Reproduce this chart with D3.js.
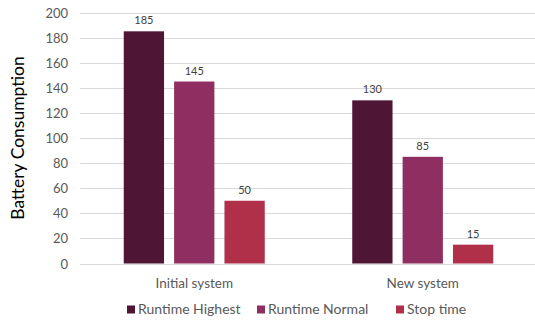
<!DOCTYPE html>
<html><head><meta charset="utf-8">
<script src="https://cdn.jsdelivr.net/npm/d3@7"></script>
<style>body{margin:0;background:#fff}svg{display:block}text{font-family:"Gill Sans","Lato",sans-serif}</style>
</head><body>
<svg id="c" width="535" height="321"></svg>
<script>
const categories = ["Initial system", "New system"];
const seriesNames = ["Runtime Highest", "Runtime Normal", "Stop time"];
const runtimeHighest = [185, 130];
const runtimeNormal = [145, 85];
const stopTime = [50, 15];
const yTicks = [0, 20, 40, 60, 80, 100, 120, 140, 160, 180, 200];
const colors = ["#4F1535", "#8E2E61", "#B0304A"];

const seriesValues = [runtimeHighest, runtimeNormal, stopTime];
const svg = d3.select("#c");
const y = d3.scaleLinear().domain([0, 200]).range([263.5, 12.5]);
const x0 = d3.scaleBand().domain(categories).range([80, 537]).paddingInner(0).paddingOuter(0);
const groupW = 141;
const x1 = d3.scaleBand().domain(seriesNames).range([0, groupW]).paddingInner(0.2).paddingOuter(0);
// grid
svg.append("g").selectAll("line").data(yTicks).join("line")
  .attr("x1", 80).attr("x2", 535).attr("y1", d => Math.round(y(d)) + 0.5).attr("y2", d => Math.round(y(d)) + 0.5)
  .attr("stroke", "#D9D9D9").attr("stroke-width", 1);
// y axis labels
const yAxis = d3.axisLeft(y).tickValues(yTicks).tickSize(0).tickPadding(0);
const ya = svg.append("g").attr("transform", "translate(68,0)").call(yAxis);
ya.select(".domain").remove();
ya.selectAll("text").attr("fill", "#595959").attr("font-size", 13).attr("dy", "0.35em")
  .style("font-family", '"Gill Sans","Lato",sans-serif');
// bars
const groups = svg.append("g").selectAll("g").data(categories).join("g")
  .attr("transform", d => `translate(${x0(d) + (x0.bandwidth() - groupW) / 2},0)`);
groups.selectAll("rect").data((c, i) => seriesNames.map((s, j) => ({s, j, v: seriesValues[j][i]}))).join("rect")
  .attr("x", d => x1(d.s)).attr("width", x1.bandwidth())
  .attr("y", d => y(d.v)).attr("height", d => y(0) - y(d.v))
  .attr("fill", d => colors[d.j]);
groups.selectAll("text").data((c, i) => seriesNames.map((s, j) => ({s, j, v: seriesValues[j][i]}))).join("text")
  .attr("x", d => x1(d.s) + x1.bandwidth() / 2).attr("y", d => y(d.v) - 7)
  .attr("text-anchor", "middle").attr("font-size", 11).attr("fill", "#404040").text(d => d.v);
// category labels
svg.append("g").selectAll("text").data(categories).join("text")
  .attr("x", d => x0(d) + x0.bandwidth() / 2).attr("y", 288)
  .attr("text-anchor", "middle").attr("font-size", 13.5).attr("fill", "#595959").text(d => d);
// y title
svg.append("text").attr("transform", "translate(24,138) rotate(-90)")
  .attr("text-anchor", "middle").attr("font-size", 17.5).attr("fill", "#000").text("Battery Consumption");
// legend
const legendX = [127, 257, 396];
const lg = svg.append("g").selectAll("g").data(seriesNames).join("g")
  .attr("transform", (d, i) => `translate(${legendX[i]},309.5)`);
lg.append("rect").attr("x", 0).attr("y", -4).attr("width", 8).attr("height", 8).attr("fill", (d, i) => colors[i]);
lg.append("text").attr("x", 11).attr("y", 0).attr("dy", "0.35em").attr("font-size", 14).attr("fill", "#595959").text(d => d);
</script>
</body></html>
